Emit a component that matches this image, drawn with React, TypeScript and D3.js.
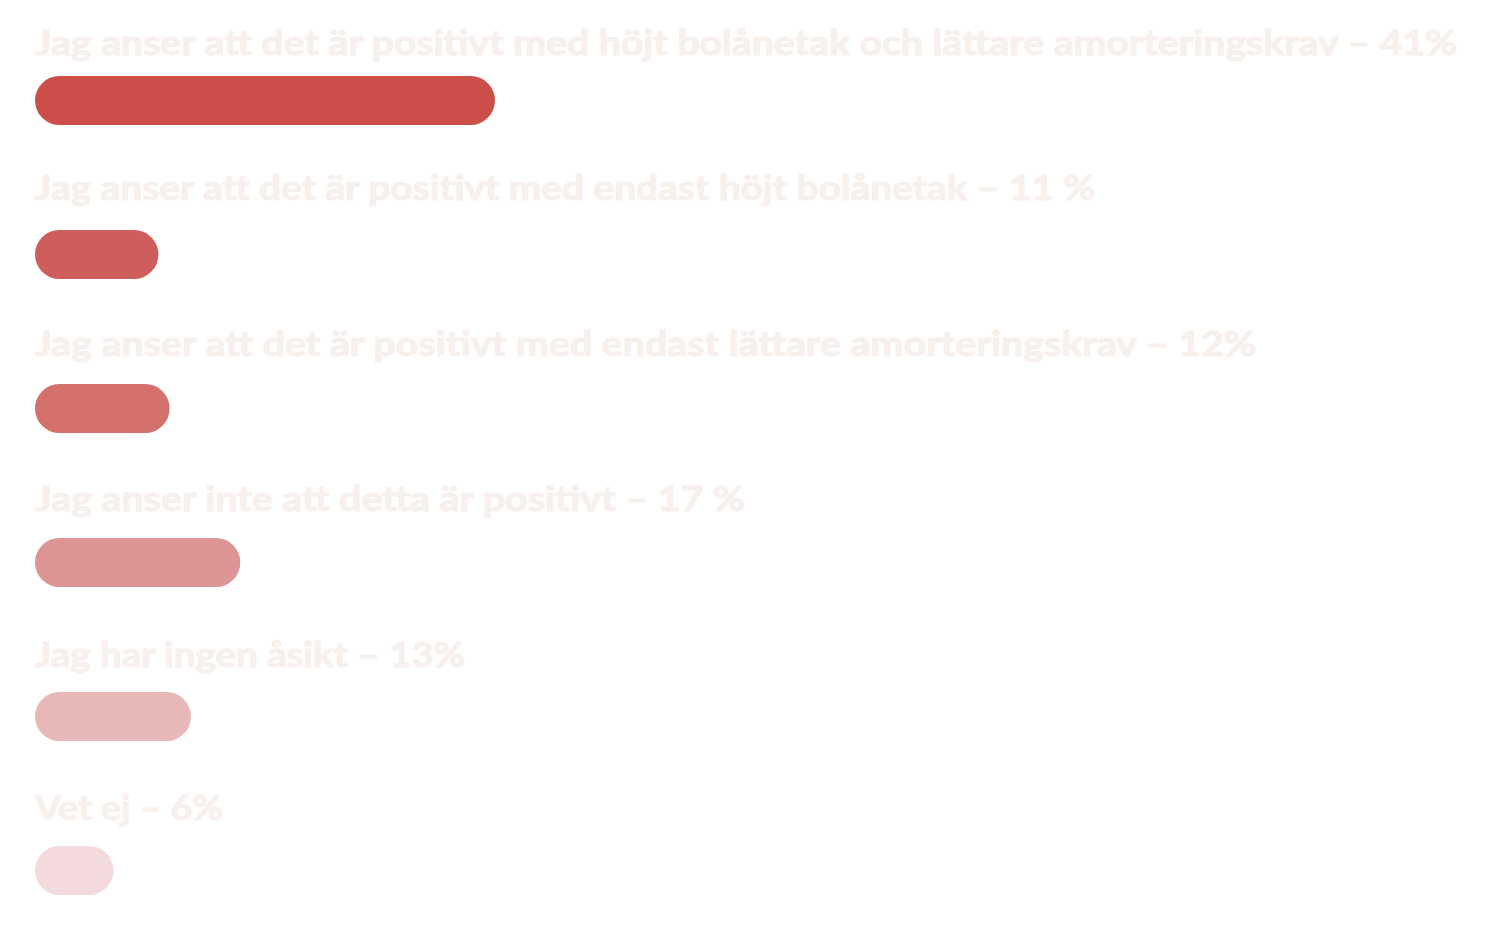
import React from "react";
import * as d3 from "d3";

const labels = [
  "Jag anser att det är positivt med höjt bolånetak och lättare amorteringskrav – 41%",
  "Jag anser att det är positivt med endast höjt bolånetak – 11 %",
  "Jag anser att det är positivt med endast lättare amorteringskrav – 12%",
  "Jag anser inte att detta är positivt – 17 %",
  "Jag har ingen åsikt – 13%",
  "Vet ej – 6%",
];
// bar lengths (percent units)
const barValues = [41, 11, 12, 18.3, 13.9, 7];
const barColors = ["#CB4F48", "#CE5D5B", "#D4716D", "#DC9495", "#E8B8B8", "#F2DADD"];

// layout
const W = 1505;
const H = 928;
const left = 35;
const barH = 49;
const labelGap = [21, 30, 28, 27, 25, 26];
const labelEnd = [1457, 1095, 1256, 745, 465, 223];

export default function App() {
  const x = d3.scaleLinear().domain([0, 41]).range([0, 460]);
  const y = d3
    .scaleLinear()
    .domain([0, labels.length - 1])
    .range([76, 76 + 154 * (labels.length - 1)]);

  return (
    <svg
      width={W}
      height={H}
      style={{ position: "absolute", left: 0, top: 0, background: "#fff" }}
    >
      {labels.map((lab, i) => {
        const top = y(i);
        const w = x(barValues[i]);
        return (
          <g key={i}>
            <text
              x={left}
              y={top - labelGap[i]}
              fill="#F7F0EC"
              stroke="#F7F0EC"
              strokeWidth={1}
              strokeLinejoin="round"
              fontFamily="Lato, 'Open Sans', sans-serif"
              fontWeight={700}
              fontSize={34}
              textLength={labelEnd[i] - left}
              lengthAdjust="spacingAndGlyphs"
            >
              {lab}
            </text>
            <rect
              x={left}
              y={top}
              width={w}
              height={barH}
              rx={barH / 2}
              ry={barH / 2}
              fill={barColors[i]}
            />
          </g>
        );
      })}
    </svg>
  );
}
